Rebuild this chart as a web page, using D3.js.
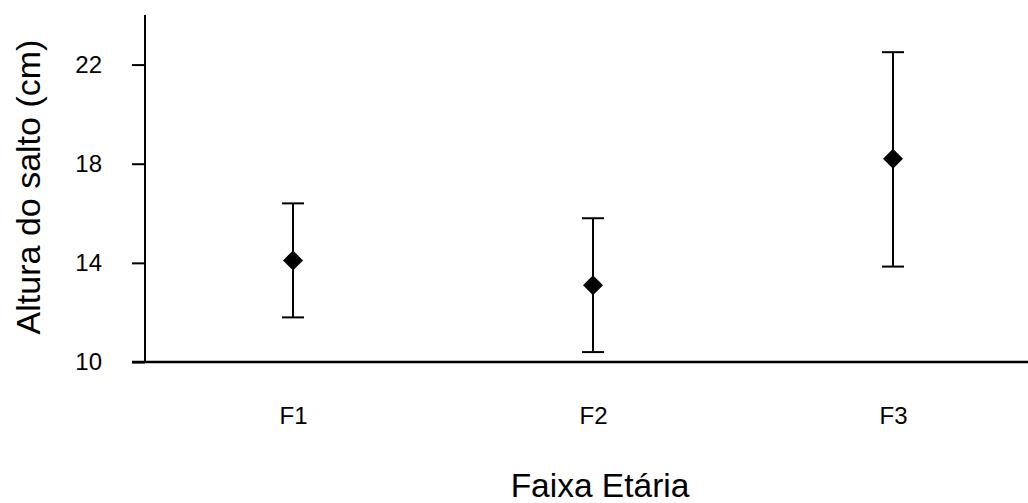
<!DOCTYPE html>
<html>
<head>
<meta charset="utf-8">
<script src="https://cdn.jsdelivr.net/npm/d3@7"></script>
<style>
  html, body { margin: 0; padding: 0; background: #fff; }
  svg { display: block; }
  text { font-family: "Liberation Sans", Arial, sans-serif; fill: #000; }
</style>
</head>
<body>
<svg id="chart" width="1028" height="503"></svg>
<script>
const categories = ["F1", "F2", "F3"];
const means = [14.1, 13.1, 18.2];
const upper = [16.4, 15.8, 22.5];
const lower = [11.8, 10.4, 13.85];
const yTicks = [10, 14, 18, 22];
const yDomain = [10, 24];
const xTitle = "Faixa Etária";
const yTitle = "Altura do salto (cm)";

const svg = d3.select("#chart");
const axisX = 145, axisBottomY = 362, axisTopY = 15;

const x = d3.scalePoint().domain(categories).range([293, 893]);
const y = d3.scaleLinear().domain(yDomain).range([axisBottomY, axisTopY]);

// Y axis
const yAxis = d3.axisLeft(y).tickValues(yTicks).tickSize(13).tickPadding(30).tickFormat(d3.format("d"));
const gy = svg.append("g").attr("transform", `translate(${axisX},0)`).call(yAxis);
gy.select(".domain").remove();
gy.selectAll(".tick line").attr("stroke", "#000").attr("stroke-width", 2);
gy.selectAll(".tick text").attr("font-size", 24).attr("font-family", "Liberation Sans, Arial, sans-serif").attr("fill", "#000");
svg.append("line").attr("x1", axisX).attr("x2", axisX).attr("y1", y(yDomain[1])).attr("y2", y(yDomain[0]) + 1)
  .attr("stroke", "#000").attr("stroke-width", 2);

// X axis
const xAxis = d3.axisBottom(x).tickSize(0).tickPadding(45);
const gx = svg.append("g").attr("transform", `translate(0,${axisBottomY})`).call(xAxis);
gx.select(".domain").remove();
gx.selectAll(".tick text").attr("font-size", 24).attr("font-family", "Liberation Sans, Arial, sans-serif").attr("fill", "#000");
svg.append("line").attr("x1", axisX - 13).attr("x2", 1028).attr("y1", axisBottomY).attr("y2", axisBottomY)
  .attr("stroke", "#000").attr("stroke-width", 2.5);

// Error bars
const data = categories.map((c, i) => ({ c, m: means[i], hi: upper[i], lo: lower[i] }));
const capW = 22;
const g = svg.append("g");
g.selectAll("line.v").data(data).join("line")
  .attr("x1", d => x(d.c)).attr("x2", d => x(d.c))
  .attr("y1", d => y(d.hi)).attr("y2", d => y(d.lo))
  .attr("stroke", "#000").attr("stroke-width", 2);
g.selectAll("line.top").data(data).join("line")
  .attr("x1", d => x(d.c) - capW / 2).attr("x2", d => x(d.c) + capW / 2)
  .attr("y1", d => y(d.hi)).attr("y2", d => y(d.hi))
  .attr("stroke", "#000").attr("stroke-width", 2);
g.selectAll("line.bot").data(data).join("line")
  .attr("x1", d => x(d.c) - capW / 2).attr("x2", d => x(d.c) + capW / 2)
  .attr("y1", d => y(d.lo)).attr("y2", d => y(d.lo))
  .attr("stroke", "#000").attr("stroke-width", 2);

// Diamond markers
const half = 10;
g.selectAll("path.mk").data(data).join("path")
  .attr("d", d => {
    const cx = x(d.c), cy = y(d.m);
    return `M${cx},${cy - half}L${cx + half},${cy}L${cx},${cy + half}L${cx - half},${cy}Z`;
  })
  .attr("fill", "#000");

// Titles
svg.append("text").attr("x", 600).attr("y", 497).attr("text-anchor", "middle")
  .attr("font-size", 33.5).text(xTitle);
svg.append("text").attr("transform", "translate(40,187) rotate(-90)").attr("text-anchor", "middle")
  .attr("font-size", 34).text(yTitle);
</script>
</body>
</html>
